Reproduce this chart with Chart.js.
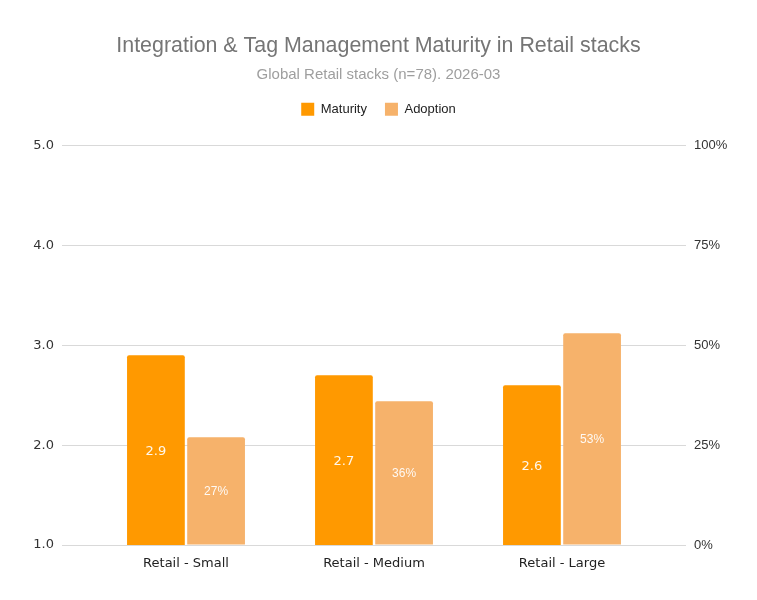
<!DOCTYPE html>
<html>
<head>
<meta charset="utf-8">
<script src="https://cdn.jsdelivr.net/npm/chart.js@4/dist/chart.umd.min.js"></script>
<style>
  html, body { margin: 0; padding: 0; background: #fff; }
  #wrap { width: 757px; height: 600px; }
</style>
</head>
<body>
<div id="wrap"><canvas id="chart" width="757" height="600"></canvas></div>
<script>
const categories = ["Retail - Small", "Retail - Medium", "Retail - Large"];
const maturity = [2.9, 2.7, 2.6];
const adoption = [27, 36, 53];
const maturityTicks = [1, 2, 3, 4, 5];
const adoptionTicks = [0, 25, 50, 75, 100];

// labels in the middle of each bar
const barLabels = {
  id: "barLabels",
  afterDatasetsDraw(chart) {
    const ctx = chart.ctx;
    const bottom = chart.chartArea.bottom;
    chart.data.datasets.forEach((ds, i) => {
      const meta = chart.getDatasetMeta(i);
      meta.data.forEach((bar, j) => {
        const v = ds.data[j];
        const text = i === 0 ? v.toFixed(1) : v + "%";
        const base = Math.min(bar.base, bottom);
        ctx.save();
        ctx.fillStyle = "rgba(255,255,255,0.92)";
        ctx.font = i === 0 ? "13px 'DejaVu Sans'" : "12px 'Liberation Sans'";
        ctx.textAlign = "center";
        ctx.textBaseline = "middle";
        ctx.fillText(text, bar.x, (bar.y + base) / 2 + 1);
        ctx.restore();
      });
    });
  }
};

// extra room under the legend
const legendGap = {
  id: "legendGap",
  beforeInit(chart) {
    const fit = chart.legend.fit;
    chart.legend.fit = function () {
      fit.bind(chart.legend)();
      this.height += 20;
    };
  }
};

new Chart(document.getElementById("chart"), {
  type: "bar",
  data: {
    labels: categories,
    datasets: [
      {
        label: "Maturity",
        data: maturity,
        backgroundColor: "#ff9900",
        yAxisID: "y",
        borderRadius: 2,
        borderSkipped: "bottom",
        barPercentage: 0.96,
        categoryPercentage: 0.64
      },
      {
        label: "Adoption",
        data: adoption,
        backgroundColor: "#f6b26b",
        yAxisID: "y1",
        borderRadius: 2,
        borderSkipped: "bottom",
        barPercentage: 0.96,
        categoryPercentage: 0.64
      }
    ]
  },
  options: {
    responsive: false,
    animation: false,
    plugins: {
      title: {
        display: true,
        text: "Integration & Tag Management Maturity in Retail stacks",
        color: "#757575",
        font: { family: "'Liberation Sans'", size: 21.4, weight: "normal" },
        padding: { top: 33, bottom: 7 }
      },
      subtitle: {
        display: true,
        text: "Global Retail stacks (n=78). 2026-03",
        color: "#9e9e9e",
        font: { family: "'Liberation Sans'", size: 15, weight: "normal" },
        padding: { top: 0, bottom: 1 }
      },
      legend: {
        display: true,
        labels: {
          boxWidth: 13,
          boxHeight: 13,
          padding: 18,
          color: "#222",
          font: { family: "'Liberation Sans'", size: 13 }
        }
      },
      tooltip: { enabled: false }
    },
    scales: {
      x: {
        grid: { display: false },
        border: { display: false },
        ticks: {
          color: "#222",
          padding: 3,
          font: { family: "'DejaVu Sans'", size: 13 }
        },
        afterFit(scale) { scale.height = 55; }
      },
      y: {
        position: "left",
        min: 1,
        max: 5,
        afterBuildTicks(scale) { scale.ticks = maturityTicks.map(v => ({ value: v })); },
        grid: { color: "#d9d9d9", drawTicks: true, tickLength: 30 },
        border: { display: false },
        ticks: {
          color: "#333",
          padding: 8,
          font: { family: "'DejaVu Sans'", size: 13 },
          callback: v => Number(v).toFixed(1)
        },
        afterFit(scale) { scale.width = 92; }
      },
      y1: {
        position: "right",
        min: 0,
        max: 100,
        afterBuildTicks(scale) { scale.ticks = adoptionTicks.map(v => ({ value: v })); },
        grid: { color: "#d9d9d9", drawOnChartArea: false, drawTicks: true, tickLength: 30 },
        border: { display: false },
        ticks: {
          color: "#333",
          padding: 8,
          font: { family: "'Liberation Sans'", size: 13 },
          callback: v => v + "%"
        },
        afterFit(scale) { scale.width = 101; }
      }
    }
  },
  plugins: [barLabels, legendGap]
});
</script>
</body>
</html>
